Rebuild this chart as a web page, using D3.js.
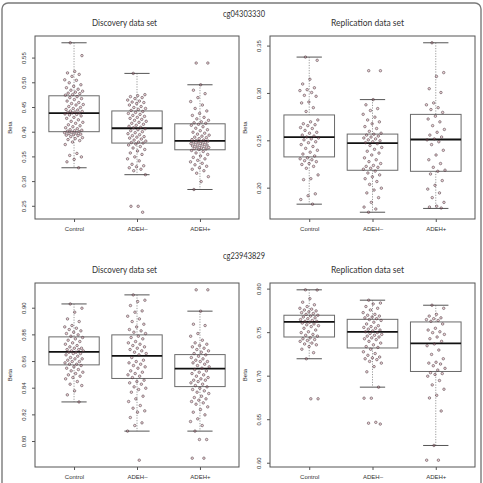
<!DOCTYPE html>
<meta charset="utf-8">
<style>
  body { margin: 0; background: #fff; }
  text { fill: #333; }
</style>
<script src="https://d3js.org/d3.v7.min.js"></script>
<div id="chart"></div>
<script>

// groups on the x axis
var groups = ["Control", "ADEH\u2013", "ADEH+"];

// cg04303330, discovery data set (beta values per group)
var cg04Disc = [
  [0.581, 0.555, 0.523, 0.520, 0.517, 0.513, 0.506, 0.505, 0.500, 0.496, 0.493, 0.490, 0.487, 0.485, 0.483, 0.481, 0.479, 0.478, 0.476, 0.475,
   0.472, 0.470, 0.468, 0.466, 0.463, 0.460, 0.458, 0.456, 0.455, 0.452, 0.450, 0.448, 0.446, 0.445, 0.443, 0.442, 0.441, 0.440, 0.439, 0.439,
   0.437, 0.436, 0.435, 0.433, 0.430, 0.428, 0.425, 0.422, 0.420, 0.418, 0.415, 0.413, 0.411, 0.409, 0.407, 0.405, 0.404, 0.403, 0.402, 0.401,
   0.400, 0.399, 0.398, 0.397, 0.396, 0.395, 0.394, 0.393, 0.391, 0.389, 0.387, 0.385, 0.383, 0.380, 0.375, 0.357, 0.353, 0.350, 0.345, 0.340, 0.328],
  [0.519, 0.476, 0.474, 0.472, 0.470, 0.468, 0.465, 0.463, 0.461, 0.460, 0.458, 0.455, 0.452, 0.450, 0.448, 0.446, 0.444,
   0.442, 0.440, 0.438, 0.436, 0.434, 0.432, 0.430, 0.428, 0.426, 0.424, 0.422, 0.420, 0.418, 0.416, 0.414, 0.412, 0.410, 0.409,
   0.407, 0.405, 0.403, 0.401, 0.399, 0.397, 0.395, 0.393, 0.391, 0.390, 0.388, 0.386, 0.384, 0.382, 0.380, 0.379, 0.378,
   0.376, 0.374, 0.371, 0.368, 0.365, 0.362, 0.358, 0.355, 0.350, 0.346, 0.342, 0.335, 0.332, 0.330, 0.328, 0.325, 0.322, 0.314, 0.250, 0.250, 0.238],
  [0.540, 0.540, 0.496, 0.485, 0.478, 0.470, 0.462, 0.455, 0.448, 0.443, 0.438, 0.434, 0.430, 0.427, 0.424, 0.421, 0.419, 0.418,
   0.416, 0.414, 0.411, 0.408, 0.405, 0.403, 0.400, 0.398, 0.396, 0.394, 0.392, 0.390, 0.389, 0.387, 0.385, 0.384, 0.383,
   0.382, 0.381, 0.380, 0.379, 0.378, 0.377, 0.376, 0.375, 0.374, 0.373, 0.372, 0.371, 0.370, 0.369, 0.368, 0.367, 0.366, 0.365,
   0.363, 0.361, 0.358, 0.355, 0.352, 0.349, 0.346, 0.343, 0.340, 0.337, 0.334, 0.331, 0.328, 0.325, 0.322, 0.317, 0.310, 0.300, 0.284]
];
// [lower whisker, Q1, median, Q3, upper whisker]
var cg04DiscBox = [
  [0.328, 0.401, 0.4385, 0.4737, 0.581],
  [0.314, 0.378, 0.408, 0.443, 0.519],
  [0.284, 0.3644, 0.3826, 0.417, 0.496]
];
var cg04DiscTicks = [0.25, 0.30, 0.35, 0.40, 0.45, 0.50, 0.55];

// cg04303330, replication data set
var cg04Repl = [
  [0.3384, 0.335, 0.315, 0.310, 0.306, 0.304, 0.303, 0.301, 0.298, 0.297, 0.291, 0.290, 0.285, 0.281,
   0.272, 0.270, 0.268, 0.267, 0.266, 0.264, 0.263, 0.261, 0.259, 0.258, 0.256, 0.255, 0.254,
   0.253, 0.252, 0.251, 0.249, 0.248, 0.246, 0.244, 0.242, 0.240, 0.238, 0.236, 0.234,
   0.232, 0.231, 0.230, 0.229, 0.228, 0.226, 0.225, 0.223, 0.221, 0.214, 0.210, 0.209, 0.194, 0.192, 0.188, 0.1831],
  [0.324, 0.324, 0.2935, 0.288, 0.284, 0.282, 0.278, 0.275, 0.272, 0.270, 0.268, 0.265, 0.263, 0.260, 0.258,
   0.257, 0.256, 0.255, 0.254, 0.253, 0.252, 0.251, 0.250, 0.249, 0.248,
   0.247, 0.245, 0.243, 0.241, 0.239, 0.237, 0.235, 0.232, 0.230, 0.228, 0.226, 0.224, 0.223, 0.222, 0.221, 0.220,
   0.218, 0.216, 0.214, 0.212, 0.210, 0.207, 0.204, 0.200, 0.198, 0.195, 0.190, 0.185, 0.180, 0.178, 0.1746],
  [0.3535, 0.322, 0.318, 0.305, 0.301, 0.290, 0.288, 0.285, 0.283, 0.280,
   0.276, 0.273, 0.270, 0.266, 0.262, 0.259, 0.256, 0.254, 0.252,
   0.251, 0.249, 0.246, 0.240, 0.235, 0.230, 0.226, 0.222, 0.219,
   0.2178, 0.215, 0.208, 0.203, 0.199, 0.195, 0.190, 0.185, 0.181, 0.180, 0.179]
];
var cg04ReplBox = [
  [0.1831, 0.233, 0.2539, 0.2773, 0.3384],
  [0.1746, 0.2189, 0.2476, 0.2571, 0.2935],
  [0.1786, 0.2178, 0.2514, 0.2779, 0.3535]
];
var cg04ReplTicks = [0.20, 0.25, 0.30, 0.35];

// cg23943829, discovery data set
var cg23Disc = [
  [0.9032, 0.900, 0.897, 0.892, 0.890, 0.887, 0.886, 0.885, 0.884, 0.883, 0.882, 0.881, 0.880, 0.879,
   0.878, 0.877, 0.876, 0.875, 0.874, 0.873, 0.872, 0.871, 0.870, 0.870, 0.869, 0.869, 0.868, 0.868, 0.867,
   0.867, 0.866, 0.866, 0.865, 0.864, 0.863, 0.862, 0.862, 0.861, 0.860, 0.860, 0.859, 0.858, 0.858,
   0.857, 0.856, 0.855, 0.854, 0.853, 0.852, 0.851, 0.850, 0.849, 0.848, 0.847, 0.845, 0.843, 0.842, 0.838, 0.835, 0.8297],
  [0.910, 0.906, 0.905, 0.902, 0.898, 0.897, 0.894, 0.892, 0.890, 0.888, 0.886, 0.884, 0.883, 0.882, 0.881,
   0.879, 0.878, 0.877, 0.875, 0.874, 0.873, 0.872, 0.871, 0.870, 0.869, 0.868, 0.867, 0.866, 0.865,
   0.863, 0.861, 0.860, 0.859, 0.858, 0.857, 0.856, 0.855, 0.853, 0.852, 0.851, 0.850, 0.849, 0.848,
   0.846, 0.845, 0.844, 0.843, 0.841, 0.840, 0.839, 0.837, 0.834, 0.832, 0.830, 0.827, 0.825, 0.823, 0.822, 0.818, 0.814, 0.812, 0.8078, 0.786],
  [0.9138, 0.9138, 0.8978, 0.888, 0.887, 0.881, 0.879, 0.876, 0.874, 0.873, 0.872, 0.871, 0.870, 0.869, 0.868, 0.867, 0.866,
   0.865, 0.864, 0.863, 0.862, 0.861, 0.860, 0.860, 0.859, 0.858, 0.857, 0.856, 0.855,
   0.854, 0.853, 0.852, 0.851, 0.850, 0.849, 0.848, 0.847, 0.846, 0.846, 0.845, 0.844, 0.843, 0.842, 0.841,
   0.840, 0.839, 0.838, 0.837, 0.836, 0.834, 0.833, 0.832, 0.831, 0.830, 0.829, 0.828, 0.826, 0.824, 0.822, 0.820, 0.817, 0.815, 0.812,
   0.8078, 0.8015, 0.8015, 0.7875, 0.7875]
];
var cg23DiscBox = [
  [0.8297, 0.8575, 0.8673, 0.8785, 0.9032],
  [0.8078, 0.8473, 0.8643, 0.880, 0.910],
  [0.8078, 0.8412, 0.8547, 0.8652, 0.8978]
];
var cg23DiscTicks = [0.80, 0.82, 0.84, 0.86, 0.88, 0.90];

// cg23943829, replication data set
var cg23Repl = [
  [0.7992, 0.799, 0.789, 0.785, 0.782, 0.780, 0.778, 0.777, 0.776, 0.775, 0.774, 0.773, 0.772, 0.771,
   0.770, 0.769, 0.768, 0.767, 0.766, 0.765, 0.764, 0.763, 0.763,
   0.762, 0.761, 0.760, 0.759, 0.758, 0.757, 0.755, 0.753, 0.751, 0.750, 0.748, 0.747, 0.746,
   0.744, 0.743, 0.742, 0.741, 0.740, 0.738, 0.737, 0.736, 0.734, 0.731, 0.727, 0.720, 0.674, 0.674],
  [0.7873, 0.784, 0.783, 0.780, 0.778, 0.776, 0.773, 0.771, 0.770, 0.769, 0.768, 0.767, 0.766,
   0.765, 0.764, 0.762, 0.760, 0.758, 0.757, 0.756, 0.755, 0.754, 0.753, 0.752, 0.751,
   0.750, 0.749, 0.748, 0.747, 0.746, 0.745, 0.744, 0.743, 0.742, 0.740, 0.738, 0.736, 0.734, 0.733,
   0.731, 0.728, 0.726, 0.724, 0.722, 0.721, 0.720, 0.719, 0.717, 0.715, 0.711, 0.705, 0.6874, 0.6747, 0.6747, 0.647, 0.646, 0.645],
  [0.7815, 0.778, 0.771, 0.769, 0.767, 0.766, 0.765, 0.764, 0.763,
   0.760, 0.755, 0.753, 0.751, 0.750, 0.748, 0.745, 0.743, 0.740,
   0.737, 0.735, 0.730, 0.725, 0.720, 0.716, 0.715, 0.714, 0.712, 0.709, 0.707,
   0.704, 0.703, 0.702, 0.700, 0.695, 0.690, 0.685, 0.678, 0.675, 0.660, 0.6204, 0.6035, 0.6035]
];
var cg23ReplBox = [
  [0.720, 0.745, 0.7623, 0.770, 0.7992],
  [0.6874, 0.7324, 0.7508, 0.7653, 0.7873],
  [0.6204, 0.7054, 0.7377, 0.7623, 0.7815]
];
var cg23ReplTicks = [0.60, 0.65, 0.70, 0.75, 0.80];

var probes = ["cg04303330", "cg23943829"];
var titles = ["Discovery data set", "Replication data set"];

// panel layout
var W = 483, H = 483;
var colLeft = [35, 270], colRight = [239, 475];
var rowTop = [36, 283], rowBottom = [219, 467];
var titleX = [124.5, 367.5];

var panels = [
  {row: 0, col: 0, values: cg04Disc, box: cg04DiscBox, ticks: cg04DiscTicks},
  {row: 0, col: 1, values: cg04Repl, box: cg04ReplBox, ticks: cg04ReplTicks},
  {row: 1, col: 0, values: cg23Disc, box: cg23DiscBox, ticks: cg23DiscTicks},
  {row: 1, col: 1, values: cg23Repl, box: cg23ReplBox, ticks: cg23ReplTicks}
];

var svg = d3.select("#chart").append("svg")
  .attr("width", W).attr("height", H)
  .style("font-family", "'Liberation Sans', Arial, sans-serif");

// outer frame of the figure
svg.append("rect")
  .attr("x", 2).attr("y", 3)
  .attr("width", 479).attr("height", 495)
  .attr("rx", 6)
  .attr("fill", "none")
  .attr("stroke", "#7a7a7a")
  .attr("stroke-width", 1.4);

// probe headers
probes.forEach(function(p, i) {
  svg.append("text")
    .attr("x", 244).attr("y", i == 0 ? 17 : 259)
    .attr("text-anchor", "middle")
    .style("font-family", "Lato, 'Open Sans', sans-serif")
    .style("font-size", "9.5px")
    .attr("textLength", 42).attr("lengthAdjust", "spacingAndGlyphs")
    .text(p);
});

var fmt = d3.format(".2f");

panels.forEach(function(p) {
  var left = colLeft[p.col], right = colRight[p.col];
  var top = rowTop[p.row], bottom = rowBottom[p.row];

  // R style limits: data range padded by 4%
  var ext = d3.extent(d3.merge(p.values));
  var pad = (ext[1] - ext[0]) * 0.04;
  var y = d3.scaleLinear().domain([ext[0] - pad, ext[1] + pad]).range([bottom, top]);
  var x = d3.scaleLinear().domain([0.38, 3.62]).range([left, right]);
  var g = svg.append("g");

  // title
  g.append("text")
    .attr("x", titleX[p.col]).attr("y", top - 10)
    .attr("text-anchor", "middle")
    .style("font-family", "Lato, 'Open Sans', sans-serif")
    .style("font-size", "9.5px")
    .attr("textLength", p.col == 0 ? 65 : 73).attr("lengthAdjust", "spacingAndGlyphs")
    .text(titles[p.col]);

  // y axis
  var yAxis = g.append("g")
    .attr("transform", "translate(" + left + ",0)")
    .call(d3.axisLeft(y).tickValues(p.ticks).tickSize(3).tickFormat(fmt));
  yAxis.select(".domain").remove();
  yAxis.selectAll("line").attr("stroke", "#555");
  yAxis.selectAll("text")
    .attr("x", 0).attr("dy", 0)
    .attr("transform", function(d) { return "translate(-9," + y(d) + ") rotate(-90)"; })
    .attr("text-anchor", "middle")
    .style("font-size", "6px")
    .attr("fill", "#333");
  yAxis.selectAll(".tick").attr("transform", null);
  yAxis.selectAll(".tick line").attr("y1", function(d) { return y(d); }).attr("y2", function(d) { return y(d); });

  // x axis
  var xAxis = g.append("g")
    .attr("transform", "translate(0," + bottom + ")")
    .call(d3.axisBottom(x).tickValues([1, 2, 3]).tickSize(3).tickFormat(function(d) { return groups[d - 1]; }));
  xAxis.select(".domain").remove();
  xAxis.selectAll("line").attr("stroke", "#555");
  xAxis.selectAll("text").attr("y", 8).style("font-size", "6px").attr("fill", "#333");

  // y label
  g.append("text")
    .attr("transform", "translate(" + (left - 23) + "," + ((top + bottom) / 2) + ") rotate(-90)")
    .attr("text-anchor", "middle")
    .style("font-size", "6px")
    .text("Beta");

  // boxes
  p.box.forEach(function(b, i) {
    var cx = x(i + 1), hw = x(i + 1.4) - cx, cw = x(i + 1.2) - cx;
    g.append("line")
      .attr("x1", cx).attr("x2", cx).attr("y1", y(b[4])).attr("y2", y(b[3]))
      .attr("stroke", "#9a9a9a").attr("stroke-dasharray", "1.2,1.4");
    g.append("line")
      .attr("x1", cx).attr("x2", cx).attr("y1", y(b[1])).attr("y2", y(b[0]))
      .attr("stroke", "#9a9a9a").attr("stroke-dasharray", "1.2,1.4");
    [b[0], b[4]].forEach(function(v) {
      g.append("line")
        .attr("x1", cx - cw).attr("x2", cx + cw).attr("y1", y(v)).attr("y2", y(v))
        .attr("stroke", "#555").attr("stroke-width", 1);
    });
    g.append("rect")
      .attr("x", cx - hw).attr("width", 2 * hw)
      .attr("y", y(b[3])).attr("height", y(b[1]) - y(b[3]))
      .attr("fill", "none").attr("stroke", "#6a6a6a").attr("stroke-width", 1);
    g.append("line")
      .attr("x1", cx - hw).attr("x2", cx + hw).attr("y1", y(b[2])).attr("y2", y(b[2]))
      .attr("stroke", "#111").attr("stroke-width", 1.8);
  });

  // jittered points (deterministic spread, golden ratio sequence)
  p.values.forEach(function(vals, i) {
    g.selectAll(null)
      .data(vals)
      .enter().append("circle")
        .attr("cx", function(d, k) { return x(i + 1 + (((k * 0.618034 + 0.3) % 1) - 0.5) * 0.3); })
        .attr("cy", function(d) { return y(d); })
        .attr("r", 1.25)
        .attr("fill", "rgba(200,110,125,0.3)")
        .attr("stroke", "#3b2a30")
        .attr("stroke-width", 0.5);
  });

  // plot frame
  g.append("rect")
    .attr("x", left).attr("y", top)
    .attr("width", right - left).attr("height", bottom - top)
    .attr("fill", "none").attr("stroke", "#555").attr("stroke-width", 1);
});

</script>
